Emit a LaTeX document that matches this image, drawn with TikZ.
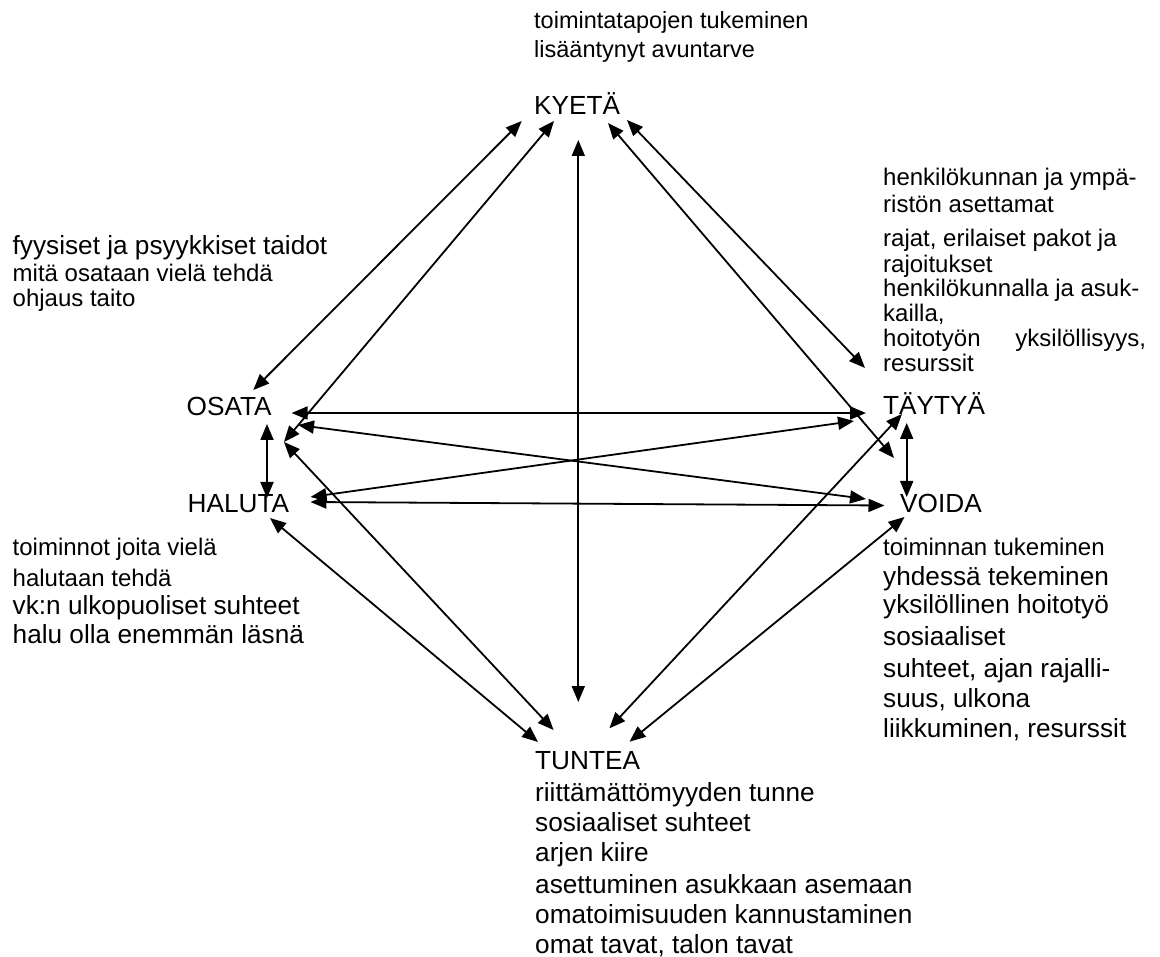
\documentclass[tikz,border=0pt]{standalone}
\usepackage{fontspec}
\setmainfont{Liberation Sans}
\usetikzlibrary{arrows.meta}
\tikzset{
  big/.style={anchor=base west, inner sep=0pt, font=\fontsize{26.2}{30}\selectfont},
  small/.style={anchor=base west, inner sep=0pt, font=\fontsize{24}{27}\selectfont},
  topt/.style={anchor=base west, inner sep=0pt, font=\fontsize{23.5}{27}\selectfont},
  con/.style={line width=1.8pt, {Triangle[length=16pt,width=13pt]}-{Triangle[length=16pt,width=13pt]}},
}
\begin{document}
\begin{tikzpicture}[x=1pt,y=-1pt]
\useasboundingbox (0,0) rectangle (1160,957);

% top text and KYETA
\node[topt] (k1) at (534,29) {toimintatapojen tukeminen};
\node[topt] (k2) at (534,58) {lisääntynyt avuntarve};
\node[big] (kyeta) at (534,115) {KYETÄ};

% left upper block
\node[big] (o1) at (12.5,255) {fyysiset ja psyykkiset taidot};
\node[small] (o2) at (12.5,281.5) {mitä osataan vielä tehdä};
\node[small] (o3) at (12.5,307) {ohjaus taito};
\node[big] (osata) at (186.5,416) {OSATA};

% right upper block
\node[small] (r1) at (883,186) {henkilökunnan ja ympä-};
\node[small] (r2) at (883,213) {ristön asettamat};
\node[small] (r3) at (883,247) {rajat, erilaiset pakot ja};
\node[small] (r4) at (883,273) {rajoitukset};
\node[small] (r5) at (883,297) {henkilökunnalla ja asuk-};
\node[small] (r6) at (883,322) {kailla,};
\node[small] (r7) at (883,347) {\hbox to 263pt{hoitotyön\hfill yksilöllisyys,}};
\node[small] (r8) at (883,372) {resurssit};
\node[big] (taytya) at (883,415) {TÄYTYÄ};

% HALUTA and VOIDA
\node[big] (haluta) at (187.5,512) {HALUTA};
\node[big] (voida) at (900,512) {VOIDA};

% left lower block
\node[small] (h1) at (12.5,555) {toiminnot joita vielä};
\node[small] (h2) at (12.5,586) {halutaan tehdä};
\node[big] (h3) at (12.5,614) {vk:n ulkopuoliset suhteet};
\node[big] (h4) at (12.5,643) {halu olla enemmän läsnä};

% right lower block
\node[small] (v1) at (883,555) {toiminnan tukeminen};
\node[big] (v2) at (883,585) {yhdessä tekeminen};
\node[big] (v3) at (883,613) {yksilöllinen hoitotyö};
\node[big] (v4) at (883,645) {sosiaaliset};
\node[big] (v5) at (883,677) {suhteet, ajan rajalli-};
\node[big] (v6) at (883,707) {suus, ulkona};
\node[big] (v7) at (883,737) {liikkuminen, resurssit};

% TUNTEA block
\node[big] (tuntea) at (535,769) {TUNTEA};
\node[big] (t1) at (535,801) {riittämättömyyden tunne};
\node[big] (t2) at (535,831) {sosiaaliset suhteet};
\node[big] (t3) at (535,861) {arjen kiire};
\node[big] (t4) at (535,893) {asettuminen asukkaan asemaan};
\node[big] (t5) at (535,923) {omatoimisuuden kannustaminen};
\node[big] (t6) at (535,953) {omat tavat, talon tavat};

% connector end points
\coordinate (kA) at (521.7,121);
\coordinate (kB) at (554,121);
\coordinate (kC) at (578.3,140);
\coordinate (kD) at (608,123);
\coordinate (kE) at (627,120);

\coordinate (oA) at (253.3,390);
\coordinate (oB) at (284,442);
\coordinate (oC) at (291.6,413);
\coordinate (oD) at (298,425);
\coordinate (oE) at (267,424);

\coordinate (hA) at (267,498);
\coordinate (hB) at (310.5,497);
\coordinate (hC) at (310.5,502);
\coordinate (hD) at (270,518);

\coordinate (yA) at (865,368);
\coordinate (yB) at (866,413);
\coordinate (yC) at (854,421);
\coordinate (yD) at (902,414);
\coordinate (yE) at (906.7,423);

\coordinate (vA) at (894,458);
\coordinate (vB) at (866,499);
\coordinate (vC) at (884.5,505.5);
\coordinate (vD) at (906.7,497);
\coordinate (vE) at (904.5,517);

\coordinate (tA) at (538,742);
\coordinate (tB) at (553.6,730);
\coordinate (tC) at (578.3,702);
\coordinate (tD) at (609.4,728.3);
\coordinate (tE) at (629.5,741.7);

% connectors
\draw[con] (kA) -- (oA);
\draw[con] (kB) -- (oB);
\draw[con] (kC) -- (tC);
\draw[con] (kD) -- (vA);
\draw[con] (kE) -- (yA);
\draw[con] (oC) -- (yB);
\draw[con] (oD) -- (vB);
\draw[con] (hB) -- (yC);
\draw[con] (hC) -- (vC);
\draw[con] (oE) -- (hA);
\draw[con] (yE) -- (vD);
\draw[con] (tB) -- (oB);
\draw[con] (tA) -- (hD);
\draw[con] (tD) -- (yD);
\draw[con] (tE) -- (vE);
\end{tikzpicture}
\end{document}
